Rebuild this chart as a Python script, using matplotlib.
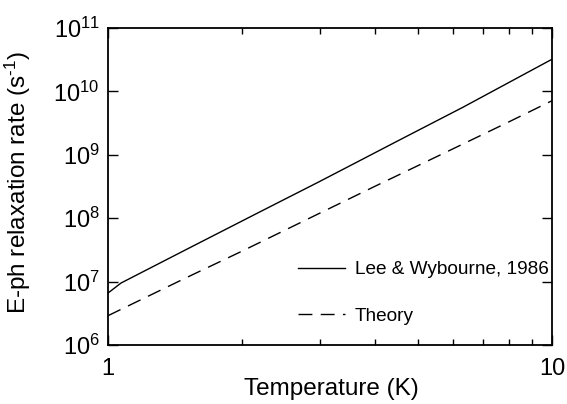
import numpy as np
import matplotlib
matplotlib.use('Agg')
import matplotlib.pyplot as plt
from matplotlib.ticker import LogLocator, NullFormatter, LogFormatterSciNotation

plt.rcParams['font.family'] = ['Liberation Sans', 'DejaVu Sans']
plt.rcParams['mathtext.fontset'] = 'custom'
plt.rcParams['mathtext.rm'] = 'Liberation Sans'
plt.rcParams['mathtext.it'] = 'Liberation Sans:italic'

# Lee & Wybourne, 1986
T_exp = [1.0, 1.07, 1.5, 2.2, 3.0, 4.5, 6.3, 10.0]
rate_exp = [6.6e6, 9.5e6, 3.2e7, 1.26e8, 3.8e8, 1.66e9, 5.6e9, 3.2e10]

# Theory
T_th = [1.0, 1.5, 2.0, 3.0, 4.0, 6.0, 8.0, 10.0]
rate_th = [2.9e6, 1.15e7, 3.0e7, 1.2e8, 3.2e8, 1.25e9, 3.3e9, 7.1e9]

fig = plt.figure(figsize=(5.67, 4.04), dpi=100)
ax = fig.add_axes([0.1905, 0.146, 0.783, 0.785])

ax.plot(T_exp, rate_exp, color='black', lw=1.0, label='Lee & Wybourne, 1986')
ax.plot(T_th, rate_th, color='black', lw=1.0, linestyle=(0, (10, 6)), label='Theory')

ax.set_xscale('log')
ax.set_yscale('log')
ax.set_xlim(1, 10)
ax.set_ylim(1e6, 1e11)

ax.xaxis.set_major_locator(LogLocator(base=10, numticks=5))
ax.xaxis.set_minor_locator(LogLocator(base=10, subs=np.arange(2, 10), numticks=20))
ax.xaxis.set_minor_formatter(NullFormatter())
ax.xaxis.set_major_formatter(plt.FuncFormatter(lambda v, p: f'{v:g}'))
ax.yaxis.set_major_locator(LogLocator(base=10, numticks=10))
ax.yaxis.set_minor_locator(plt.NullLocator())
ax.yaxis.set_major_formatter(LogFormatterSciNotation())

ax.tick_params(which='both', direction='in', top=True, right=True, labelsize=17)
ax.tick_params(which='major', length=7, width=1)
ax.tick_params(which='minor', length=4, width=1)
ax.tick_params(axis='x', pad=9)
ax.tick_params(axis='y', pad=6)

for s in ax.spines.values():
    s.set_linewidth(1.3)

ax.set_xlabel('Temperature (K)', fontsize=17.5)
ax.set_ylabel('E-ph relaxation rate (s$^{\\text{-1}}$)', fontsize=17.5)
ax.xaxis.set_label_coords(0.503, -0.104)
ax.yaxis.set_label_coords(-0.169, 0.514)

ax.legend(loc='center left', frameon=False, fontsize=13.7, handlelength=2.5,
          handletextpad=0.5, labelspacing=1.55, borderaxespad=0,
          bbox_to_anchor=(0.41, 0.164))

fig.savefig('out.png', dpi=100)
